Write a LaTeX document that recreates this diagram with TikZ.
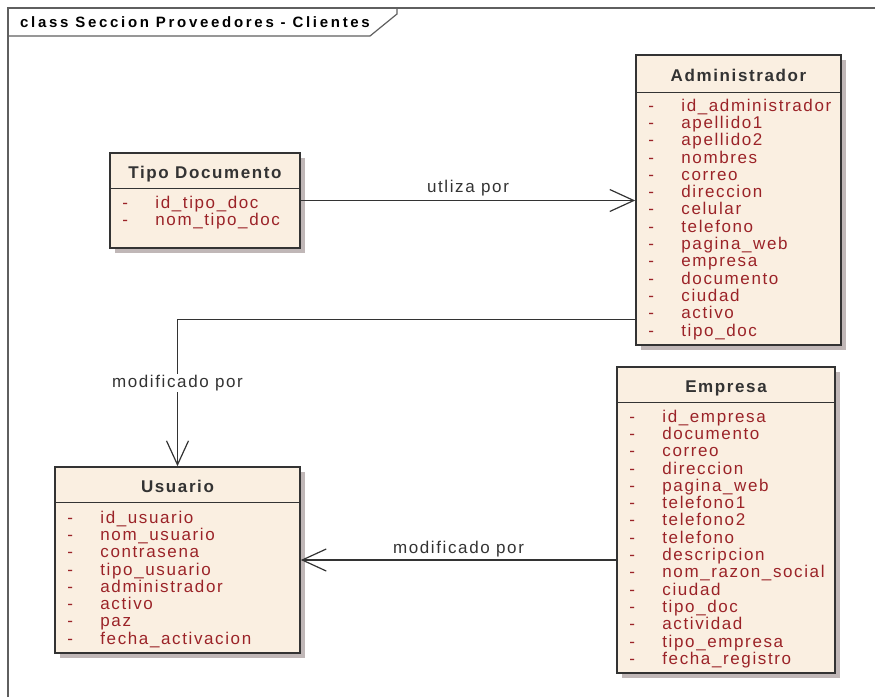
\documentclass[tikz,border=0pt]{standalone}
\usepackage{fontspec}
\setmainfont{Liberation Sans}[LetterSpace=9.5]
\newfontfamily\titlefont{Liberation Sans}[LetterSpace=18]
\usetikzlibrary{arrows.meta,positioning,calc,shadows}

\definecolor{classfill}{RGB}{250,239,225}
\definecolor{classline}{RGB}{51,51,51}
\definecolor{attrred}{RGB}{155,35,40}
\definecolor{shadowgrey}{RGB}{192,183,183}
\definecolor{framegrey}{RGB}{95,95,95}
\newcommand{\attr}[1]{\makebox[33pt][l]{-}#1}

\begin{document}
\begin{tikzpicture}[
    x=1pt, y=-1pt,
    classbox/.style={rectangle, draw=classline, line width=1.6pt, fill=classfill, inner sep=0pt,
        general shadow={fill=shadowgrey, shadow xshift=5pt, shadow yshift=-5pt}},
    classhead/.style={minimum height=36pt, inner sep=0pt, text height=17pt, text depth=0pt,
        text=classline, font=\fontsize{17}{17}\selectfont\bfseries},
    attrs/.style={anchor=north west, inner sep=0pt, align=left, text=attrred, font=\fontsize{17}{17.3}\selectfont},
    assoc/.style={draw=classline, line width=1.2pt, -{Straight Barb[length=24pt,width=22pt]}},
    rolelabel/.style={text=classline, inner sep=1pt, font=\fontsize{17}{17}\selectfont}
]
\useasboundingbox (0,0) rectangle (875,697);

% frame of the diagram
\draw[framegrey, line width=1.2pt] (8,697) -- (8,8) -- (875,8);
\draw[framegrey, line width=1.2pt] (8,36) -- (370,36) -- (397,14) -- (397,8);
\node[anchor=west, inner sep=0pt, text=black, font=\titlefont\fontsize{15}{16}\selectfont\bfseries] (frametitle) at (20,22) {class Seccion Proveedores - Clientes};

% classes
\node[classbox, minimum width=190pt, minimum height=95pt] (tipo) at (205,200.5) {};
\node[classbox, minimum width=205pt, minimum height=290pt] (admin) at (738.5,200) {};
\node[classbox, minimum width=218pt, minimum height=306pt] (empresa) at (726,520) {};
\node[classbox, minimum width=245pt, minimum height=186pt] (usuario) at (177.5,560) {};

% class names
\node[classhead, below=0pt of tipo.north] (tipo-h) {Tipo Documento};
\node[classhead, below=0pt of admin.north, minimum height=38pt] (admin-h) {Administrador};
\node[classhead, below=0pt of empresa.north] (empresa-h) {Empresa};
\node[classhead, below=0pt of usuario.north] (usuario-h) {Usuario};

\draw[classline, line width=1.2pt] (tipo-h.south -| tipo.west) -- (tipo-h.south -| tipo.east);
\draw[classline, line width=1.2pt] (admin-h.south -| admin.west) -- (admin-h.south -| admin.east);
\draw[classline, line width=1.2pt] (empresa-h.south -| empresa.west) -- (empresa-h.south -| empresa.east);
\draw[classline, line width=1.2pt] (usuario-h.south -| usuario.west) -- (usuario-h.south -| usuario.east);

% attributes
\node[attrs] (tipo-a) at ($(tipo-h.south -| tipo.west)+(13,7)$)
    {\attr{id\_tipo\_doc}\\\attr{nom\_tipo\_doc}};
\node[attrs] (admin-a) at ($(admin-h.south -| admin.west)+(13,6)$)
    {\attr{id\_administrador}\\\attr{apellido1}\\\attr{apellido2}\\\attr{nombres}\\\attr{correo}\\
     \attr{direccion}\\\attr{celular}\\\attr{telefono}\\\attr{pagina\_web}\\\attr{empresa}\\
     \attr{documento}\\\attr{ciudad}\\\attr{activo}\\\attr{tipo\_doc}};
\node[attrs] (empresa-a) at ($(empresa-h.south -| empresa.west)+(13,7)$)
    {\attr{id\_empresa}\\\attr{documento}\\\attr{correo}\\\attr{direccion}\\\attr{pagina\_web}\\
     \attr{telefono1}\\\attr{telefono2}\\\attr{telefono}\\\attr{descripcion}\\\attr{nom\_razon\_social}\\
     \attr{ciudad}\\\attr{tipo\_doc}\\\attr{actividad}\\\attr{tipo\_empresa}\\\attr{fecha\_registro}};
\node[attrs] (usuario-a) at ($(usuario-h.south -| usuario.west)+(13,8)$)
    {\attr{id\_usuario}\\\attr{nom\_usuario}\\\attr{contrasena}\\\attr{tipo\_usuario}\\
     \attr{administrador}\\\attr{activo}\\\attr{paz}\\\attr{fecha\_activacion}};

% associations
\draw[assoc] (tipo.east) -- (tipo.east -| admin.west)
    node[rolelabel, above, midway, yshift=3pt] (lbl-utiliza) {utliza por};
\draw[assoc] ($(admin.south west)+(0,-26)$) -| (usuario.north)
    node[rolelabel, fill=white, pos=0.716] (lbl-admin) {modificado por};
\draw[assoc] (empresa.west |- usuario.east) -- (usuario.east)
    node[rolelabel, above, midway, yshift=1pt] (lbl-empresa) {modificado por};

\end{tikzpicture}
\end{document}
